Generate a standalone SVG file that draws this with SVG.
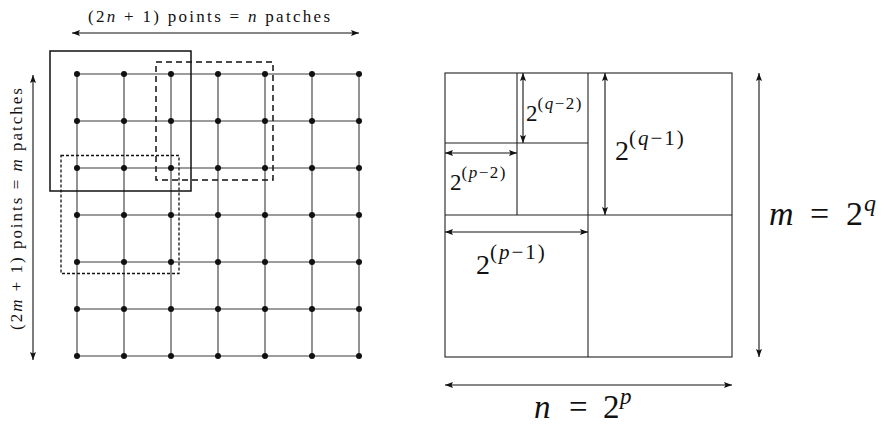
<svg xmlns="http://www.w3.org/2000/svg" width="886" height="427" viewBox="0 0 886 427">
<style>
text{font-family:"Liberation Serif","DejaVu Serif",serif;fill:#111}
.i{font-style:italic}
.grid line{stroke:#3a3a3a;stroke-width:1.1}
.dot{fill:#111}
.arr{stroke:#111;stroke-width:1.1;fill:none;marker-start:url(#ah);marker-end:url(#ah)}
.frame{stroke:#222;stroke-width:1.1;fill:none}
.s1{font-size:17px;letter-spacing:1.5px}
.s2{font-size:21px;letter-spacing:2px}
</style>
<defs>
<marker id="ah" markerUnits="userSpaceOnUse" markerWidth="10" markerHeight="8" refX="8" refY="3" orient="auto-start-reverse" viewBox="0 0 10 6">
<path d="M0,0 L8,3 L0,6 L1.5,3 z" fill="#111"/>
</marker>
</defs>
<rect width="886" height="427" fill="#fff"/>

<g id="grid" class="grid">
<line x1="77" y1="74" x2="359" y2="74"/>
<line x1="77" y1="121" x2="359" y2="121"/>
<line x1="77" y1="168" x2="359" y2="168"/>
<line x1="77" y1="215" x2="359" y2="215"/>
<line x1="77" y1="262" x2="359" y2="262"/>
<line x1="77" y1="309" x2="359" y2="309"/>
<line x1="77" y1="356" x2="359" y2="356"/>
<line x1="77" y1="74" x2="77" y2="356"/>
<line x1="124" y1="74" x2="124" y2="356"/>
<line x1="171" y1="74" x2="171" y2="356"/>
<line x1="218" y1="74" x2="218" y2="356"/>
<line x1="265" y1="74" x2="265" y2="356"/>
<line x1="312" y1="74" x2="312" y2="356"/>
<line x1="359" y1="74" x2="359" y2="356"/>
</g>
<g id="points" class="dot">
<g id="row0"><circle cx="77" cy="74" r="3"/><circle cx="124" cy="74" r="3"/><circle cx="171" cy="74" r="3"/><circle cx="218" cy="74" r="3"/><circle cx="265" cy="74" r="3"/><circle cx="312" cy="74" r="3"/><circle cx="359" cy="74" r="3"/></g>
<g id="row1"><circle cx="77" cy="121" r="3"/><circle cx="124" cy="121" r="3"/><circle cx="171" cy="121" r="3"/><circle cx="218" cy="121" r="3"/><circle cx="265" cy="121" r="3"/><circle cx="312" cy="121" r="3"/><circle cx="359" cy="121" r="3"/></g>
<g id="row2"><circle cx="77" cy="168" r="3"/><circle cx="124" cy="168" r="3"/><circle cx="171" cy="168" r="3"/><circle cx="218" cy="168" r="3"/><circle cx="265" cy="168" r="3"/><circle cx="312" cy="168" r="3"/><circle cx="359" cy="168" r="3"/></g>
<g id="row3"><circle cx="77" cy="215" r="3"/><circle cx="124" cy="215" r="3"/><circle cx="171" cy="215" r="3"/><circle cx="218" cy="215" r="3"/><circle cx="265" cy="215" r="3"/><circle cx="312" cy="215" r="3"/><circle cx="359" cy="215" r="3"/></g>
<g id="row4"><circle cx="77" cy="262" r="3"/><circle cx="124" cy="262" r="3"/><circle cx="171" cy="262" r="3"/><circle cx="218" cy="262" r="3"/><circle cx="265" cy="262" r="3"/><circle cx="312" cy="262" r="3"/><circle cx="359" cy="262" r="3"/></g>
<g id="row5"><circle cx="77" cy="309" r="3"/><circle cx="124" cy="309" r="3"/><circle cx="171" cy="309" r="3"/><circle cx="218" cy="309" r="3"/><circle cx="265" cy="309" r="3"/><circle cx="312" cy="309" r="3"/><circle cx="359" cy="309" r="3"/></g>
<g id="row6"><circle cx="77" cy="356" r="3"/><circle cx="124" cy="356" r="3"/><circle cx="171" cy="356" r="3"/><circle cx="218" cy="356" r="3"/><circle cx="265" cy="356" r="3"/><circle cx="312" cy="356" r="3"/><circle cx="359" cy="356" r="3"/></g>
</g>

<g id="patch-solid"><rect x="50" y="51" width="141" height="140" fill="none" stroke="#111" stroke-width="1.5"/></g>
<g id="patch-dashed"><rect x="156" y="62" width="117" height="118" fill="none" stroke="#111" stroke-width="1.5" stroke-dasharray="6,4"/></g>
<g id="patch-dotted"><rect x="61" y="155.5" width="118" height="118" fill="none" stroke="#111" stroke-width="1.3" stroke-dasharray="3,2"/></g>

<g id="left-dims">
<line class="arr" x1="72" y1="33" x2="359" y2="33"/>
<line class="arr" x1="33" y1="75" x2="33" y2="360"/>
<text x="88" y="22" font-size="17" textLength="242" lengthAdjust="spacing">(2<tspan class="i">n</tspan> + 1) points = <tspan class="i">n</tspan> patches</text>
<text transform="translate(22,330) rotate(-90)" font-size="17" textLength="242" lengthAdjust="spacing">(2<tspan class="i">m</tspan> + 1) points = <tspan class="i">m</tspan> patches</text>
</g>

<g id="quadtree">
<rect class="frame" x="445" y="73" width="287" height="284"/>
<line class="frame" x1="588" y1="73" x2="588" y2="357"/>
<line class="frame" x1="445" y1="215" x2="732" y2="215"/>
<line class="frame" x1="517" y1="73" x2="517" y2="215"/>
<line class="frame" x1="445" y1="143" x2="588" y2="143"/>
</g>

<g id="right-dims">
<line class="arr" x1="523" y1="73" x2="523" y2="143"/>
<line class="arr" x1="445" y1="153" x2="517" y2="153"/>
<line class="arr" x1="605" y1="73" x2="605" y2="215"/>
<line class="arr" x1="445" y1="232" x2="588" y2="232"/>
<line class="arr" x1="759" y1="73" x2="759" y2="357"/>
<line class="arr" x1="445" y1="385" x2="732" y2="385"/>
</g>

<g id="labels">
<text x="526" y="121" font-size="23">2<tspan class="s1" dy="-12">(<tspan class="i">q</tspan>−2)</tspan></text>
<text x="450" y="190" font-size="23">2<tspan class="s1" dy="-12">(<tspan class="i">p</tspan>−2)</tspan></text>
<text x="615" y="160" font-size="28">2<tspan class="s2" dy="-15">(<tspan class="i">q</tspan>−1)</tspan></text>
<text x="476" y="274" font-size="28">2<tspan class="s2" dy="-15">(<tspan class="i">p</tspan>−1)</tspan></text>
<text y="225" font-size="34"><tspan class="i" x="769">m</tspan><tspan x="810">=</tspan><tspan x="846">2</tspan><tspan class="i" font-size="24" x="864" dy="-14">q</tspan></text>
<text y="418" font-size="33"><tspan class="i" x="534">n</tspan><tspan x="569">=</tspan><tspan x="603">2</tspan><tspan class="i" font-size="23" x="620" dy="-14">p</tspan></text>
</g>
</svg>
